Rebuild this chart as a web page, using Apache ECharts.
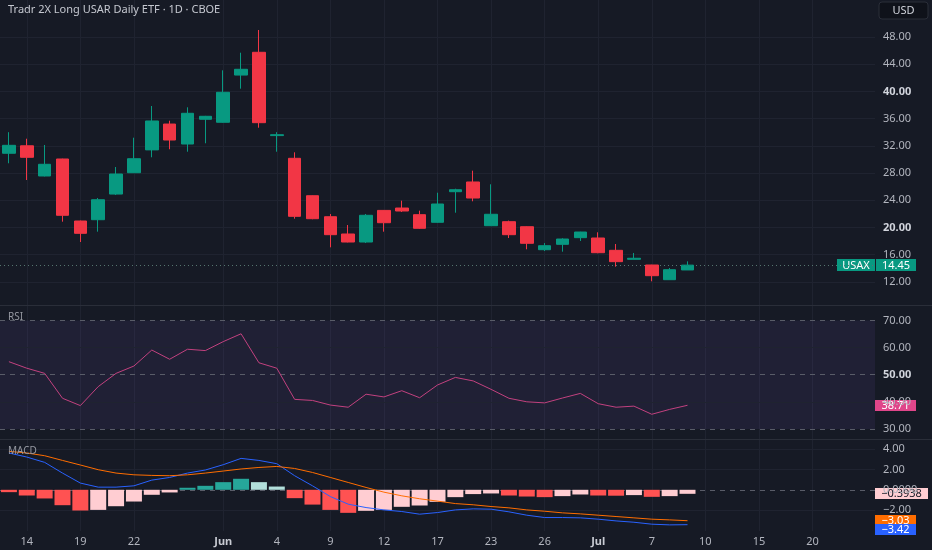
<!DOCTYPE html>
<html><head><meta charset="utf-8">
<script src="https://cdn.jsdelivr.net/npm/echarts@6/dist/echarts.min.js"></script>
<style>html,body{margin:0;padding:0;background:#161a25;}#c{width:932px;height:550px;}</style>
</head><body><div id="c"></div>
<script>
// ---- data ----
const dates = ['2025-05-13','2025-05-14','2025-05-15','2025-05-16','2025-05-19','2025-05-20','2025-05-21','2025-05-22','2025-05-23','2025-05-27','2025-05-28','2025-05-29','2025-05-30','2025-06-02','2025-06-03','2025-06-04','2025-06-05','2025-06-06','2025-06-09','2025-06-10','2025-06-11','2025-06-12','2025-06-13','2025-06-16','2025-06-17','2025-06-18','2025-06-20','2025-06-23','2025-06-24','2025-06-25','2025-06-26','2025-06-27','2025-06-30','2025-07-01','2025-07-02','2025-07-03','2025-07-07','2025-07-08','2025-07-09'];
const futureDates = ['2025-07-10','2025-07-11','2025-07-14','2025-07-15','2025-07-16','2025-07-17','2025-07-18','2025-07-21','2025-07-22','2025-07-23'];
const open  = [30.9,32.0,27.56,30.06,20.94,21.13,24.9,28.04,31.4,35.2,32.26,35.9,35.46,42.4,45.75,33.5,30.16,24.66,21.57,19.03,17.85,22.5,22.85,21.87,20.75,25.25,26.68,20.25,20.84,20.1,16.72,17.51,18.49,18.44,16.63,15.31,14.47,12.31,13.74];
const close = [32.07,30.31,29.28,21.78,19.13,24.07,27.85,30.1,35.65,32.85,36.78,36.34,39.87,43.25,35.4,33.63,21.63,21.28,18.93,17.85,21.78,20.69,22.41,19.87,23.44,25.54,24.32,21.93,18.93,17.66,17.31,18.29,19.32,16.28,14.96,15.46,12.9,13.78,14.45];
const high  = [34.0,33.04,32.12,30.1,21.0,24.32,28.88,33.19,37.85,35.69,37.66,36.4,43.1,45.69,49.03,34.0,31.04,24.7,21.97,20.35,21.97,22.55,23.93,22.46,25.1,25.69,28.34,26.34,21.0,20.15,17.7,18.4,19.35,19.28,17.56,16.24,14.5,14.03,15.01];
const low   = [29.43,26.97,27.5,20.84,17.85,19.37,24.76,28.0,30.31,31.49,31.13,32.37,35.4,40.4,34.66,31.13,21.28,21.2,17.07,17.8,17.7,19.37,22.26,19.8,20.7,22.16,23.84,20.2,18.44,16.78,16.53,16.43,18.0,16.2,14.22,15.3,12.07,12.3,13.74];
const rsi = [54.8,52.4,50.5,41.3,38.6,45.6,50.5,53.2,59.1,55.7,59.4,58.9,62.2,65.1,54.4,52.4,40.9,40.5,38.8,38.0,42.8,41.8,44.1,41.5,46.2,49.0,47.7,44.6,41.3,40.0,39.6,41.4,43.1,39.3,38.0,38.4,35.4,37.2,38.71];
const macdLine = [3.61,3.21,2.69,1.64,0.66,0.26,0.26,0.39,0.95,1.21,1.64,1.94,2.46,3.08,2.88,2.56,1.38,0.39,-0.66,-1.41,-1.74,-1.97,-2.13,-2.39,-2.23,-1.97,-1.87,-1.90,-2.16,-2.49,-2.72,-2.72,-2.75,-2.88,-3.05,-3.18,-3.37,-3.44,-3.42];
const signalLine = [3.77,3.61,3.34,2.88,2.43,1.97,1.64,1.47,1.41,1.38,1.47,1.64,1.84,2.04,2.19,2.29,2.09,1.70,1.21,0.72,0.23,-0.23,-0.59,-0.88,-1.11,-1.35,-1.47,-1.64,-1.77,-1.97,-2.10,-2.26,-2.36,-2.49,-2.62,-2.75,-2.88,-2.95,-3.03];
const histogram = [-0.23,-0.56,-0.85,-1.51,-2.03,-1.97,-1.61,-1.15,-0.49,-0.26,0.20,0.39,0.75,1.08,0.75,0.32,-0.82,-1.45,-1.97,-2.26,-2.06,-1.97,-1.67,-1.54,-1.18,-0.72,-0.42,-0.36,-0.56,-0.66,-0.72,-0.62,-0.46,-0.56,-0.58,-0.52,-0.69,-0.62,-0.3938];
const xTickLabels = ['14','19','22','Jun','4','9','12','17','23','26','Jul','7','10','15','20'];
const xTickIndex  = [1,4,7,12,15,18,21,24,27,30,33,36,39,42,45];
const priceTicks = [12,16,20,24,28,32,36,40,44,48];
const title = 'Tradr 2X Long USAR Daily ETF · 1D · CBOE';
const symbol = 'USAX';

// ---- chart ----
const FONT = '"Noto Sans", sans-serif';
const AXC = '#b2b5be';
const UP = '#089981', DN = '#F23645';
const cats = dates.concat(futureDates);
const last = dates.length - 1;
const minus = s => s.replace('-', '\u2212');

const chart = echarts.init(document.getElementById('c'), null, {renderer: 'canvas'});

function xAx(g, show) {
  return {
    type: 'category', gridIndex: g, data: cats, boundaryGap: true, show: show,
    axisLine: {show: false}, axisTick: {show: false}, splitLine: {show: false},
    axisLabel: {
      show: show, color: AXC, fontSize: 11, fontFamily: FONT, margin: 6,
      interval: (i) => xTickIndex.indexOf(i) >= 0,
      formatter: (v, i) => {
        const k = xTickIndex.indexOf(i);
        if (k < 0) return '';
        const t = xTickLabels[k];
        return /[A-Za-z]/.test(t) ? '{b|' + t + '}' : t;
      },
      rich: {b: {fontWeight: 'bold', color: '#c8cbd3', fontSize: 11, fontFamily: FONT}}
    }
  };
}
function yAx(g, min, max, interval, fmt) {
  return {
    type: 'value', gridIndex: g, position: 'right', min, max, interval, scale: false,
    axisLine: {show: false}, axisTick: {show: false}, splitLine: {show: false},
    axisLabel: {color: AXC, fontSize: 11, fontFamily: FONT, margin: 8, align: 'left', formatter: fmt,
      showMinLabel: true, showMaxLabel: true,
      rich: {b: {fontWeight: 'bold', color: '#d1d4dc', fontSize: 11, fontFamily: FONT}}}
  };
}
const faint = '#1f2330';
const hLines = (vals, extra) => vals.map(v => ({yAxis: v, lineStyle: {color: faint, type: 'solid', width: 1}})).concat(extra || []);
const dashed = v => ({yAxis: v, lineStyle: {color: '#595c68', type: [5, 5], width: 1}});

const histColors = histogram.map((v, i) => {
  const p = i > 0 ? histogram[i - 1] : 0;
  if (v >= 0) return v >= p ? '#26A69A' : '#B2DFDB';
  return v < p ? '#FF5252' : '#FFCDD2';
});

const option = {
  animation: false,
  backgroundColor: '#161a25',
  textStyle: {fontFamily: FONT},
  grid: [
    {left: 0, right: 57, top: 0, height: 309},
    {left: 0, right: 57, top: 293.4, height: 162.6},
    {left: 0, right: 57, top: 428.6, height: 102},
    {left: 0, right: 57, top: 0, height: 531}
  ],
  xAxis: [xAx(0, false), xAx(1, false), xAx(2, true), xAx(3, false)],
  yAxis: [
    yAx(0, 8, 53.44, 4, v => (v >= 12 && v <= 48) ? ((v === 40 || v === 20) ? '{b|' + v.toFixed(2) + '}' : v.toFixed(2)) : ''),
    yAx(1, 20, 80, 10, v => (v >= 30 && v <= 70) ? (v === 50 ? '{b|' + v.toFixed(2) + '}' : v.toFixed(2)) : ''),
    yAx(2, -4, 6, 2, v => (v >= -2 && v <= 4) ? (v === 0 ? '0.0000' : minus(v.toFixed(2))) : ''),
    {type: 'value', gridIndex: 3, min: 0, max: 1, show: false, splitLine: {show: false}}
  ],
  series: [
    {
      type: 'candlestick', xAxisIndex: 0, yAxisIndex: 0, barWidth: 13,
      data: dates.map((d, i) => [open[i], close[i], low[i], high[i]]),
      itemStyle: {color: UP, color0: DN, borderColor: UP, borderColor0: DN, borderWidth: 1},
      markLine: {silent: true, z: 1, symbol: ['none', 'none'], label: {show: false}, animation: false,
        data: hLines(priceTicks, [{yAxis: close[last], lineStyle: {color: '#55756f', type: [1, 3], width: 1}}])}
    },
    {
      type: 'line', xAxisIndex: 1, yAxisIndex: 1, data: rsi, symbol: 'none', z: 3,
      lineStyle: {color: '#c2417f', width: 1},
      markArea: {silent: true, itemStyle: {color: 'rgba(126,87,194,0.1)'}, data: [[{yAxis: 30}, {yAxis: 70}]]},
      markLine: {silent: true, z: 1, symbol: ['none', 'none'], label: {show: false}, animation: false,
        data: hLines([40, 60], [dashed(70), dashed(50), dashed(30)])}
    },
    {
      type: 'bar', xAxisIndex: 2, yAxisIndex: 2, barWidth: 16,
      data: histogram.map((v, i) => ({value: v, itemStyle: {color: histColors[i]}})),
      markLine: {silent: true, z: 1, symbol: ['none', 'none'], label: {show: false}, animation: false,
        data: hLines([4, 2, -2], [dashed(0)])}
    },
    {type: 'line', xAxisIndex: 2, yAxisIndex: 2, data: macdLine, symbol: 'none', z: 4, lineStyle: {color: '#2962FF', width: 1}},
    {type: 'line', xAxisIndex: 2, yAxisIndex: 2, data: signalLine, symbol: 'none', z: 4, lineStyle: {color: '#FF6D00', width: 1}},
    {
      type: 'line', xAxisIndex: 3, yAxisIndex: 3, data: cats.map(() => null), symbol: 'none', z: 0,
      markLine: {silent: true, z: 0, symbol: ['none', 'none'], label: {show: false}, animation: false,
        data: xTickIndex.map(i => ({xAxis: cats[i], lineStyle: {color: faint, type: 'solid', width: 1}}))}
    }
  ]
};
chart.setOption(option);

// ---- last-value tags, positioned with the library's scales ----
function tag(x, yc, w, h, text, bg, fg) {
  return {type: 'group', x: x, y: Math.round(yc - h / 2), z: 100, children: [
    {type: 'rect', shape: {x: 0, y: 0, width: w, height: h}, style: {fill: bg}},
    {type: 'text', style: {x: w / 2, y: h / 2 + 0.5, text: text, fill: fg, font: '11px ' + FONT, align: 'center', verticalAlign: 'middle'}}
  ]};
}
const H = 11;
const pY = chart.convertToPixel({seriesIndex: 0}, [last, close[last]])[1];
const rY = chart.convertToPixel({seriesIndex: 1}, [last, rsi[last]])[1];
const hY = chart.convertToPixel({seriesIndex: 2}, [last, histogram[last]])[1];
const sY = chart.convertToPixel({seriesIndex: 4}, [last, signalLine[last]])[1];
let mY = chart.convertToPixel({seriesIndex: 3}, [last, macdLine[last]])[1];
if (mY - sY < H) mY = sY + H - 2;

const graphics = [
  {type: 'line', z: 50, shape: {x1: 0, y1: 305.5, x2: 932, y2: 305.5}, style: {stroke: '#2a2e39', lineWidth: 1}},
  {type: 'line', z: 50, shape: {x1: 0, y1: 439.5, x2: 932, y2: 439.5}, style: {stroke: '#2a2e39', lineWidth: 1}},
  {type: 'text', z: 60, style: {x: 8, y: 10, text: title, fill: '#c5c8d0', font: '11px ' + FONT, verticalAlign: 'middle'}},
  {type: 'text', z: 60, style: {x: 8, y: 317, text: 'RSI', fill: '#9598a1', font: '10px ' + FONT, verticalAlign: 'middle'}},
  {type: 'text', z: 60, style: {x: 8, y: 451, text: 'MACD', fill: '#9598a1', font: '10px ' + FONT, verticalAlign: 'middle'}},
  {type: 'rect', z: 60, shape: {x: 879, y: 2, width: 49, height: 17, r: 3}, style: {fill: '#0f121a', stroke: '#2a2e39', lineWidth: 1}},
  {type: 'text', z: 61, style: {x: 903.5, y: 10.5, text: 'USD', fill: '#d1d4dc', font: '11px ' + FONT, align: 'center', verticalAlign: 'middle'}},
  tag(837, pY, 38, H + 1, symbol, UP, '#ffffff'),
  tag(876, pY, 40, H + 1, close[last].toFixed(2), UP, '#ffffff'),
  tag(875, rY, 41, H, rsi[last].toFixed(2), '#E0468A', '#ffffff'),
  tag(875, hY, 53, H, minus(histogram[last].toFixed(4)), '#FFCDD2', '#131722'),
  tag(875, sY, 41, H, minus(signalLine[last].toFixed(2)), '#FF6D00', '#ffffff'),
  tag(875, mY, 41, H, minus(macdLine[last].toFixed(2)), '#2962FF', '#ffffff')
];
chart.setOption({graphic: graphics});
</script>
</body></html>
